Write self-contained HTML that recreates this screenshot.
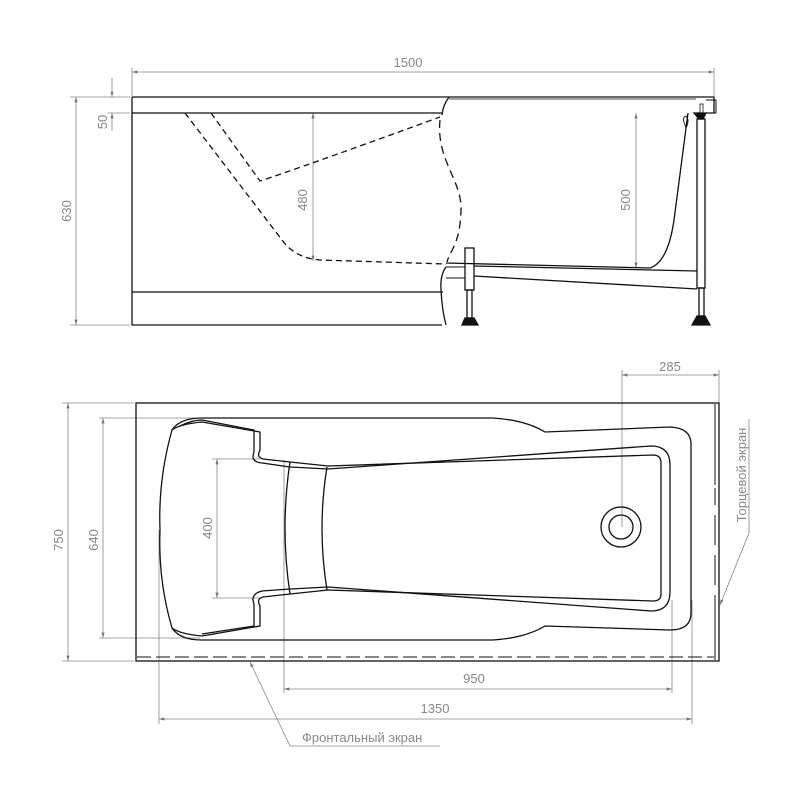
<!DOCTYPE html>
<html><head><meta charset="utf-8"><style>html,body{margin:0;padding:0;background:#fff}svg{display:block}</style></head>
<body>
<svg width="800" height="800" viewBox="0 0 800 800" xmlns="http://www.w3.org/2000/svg">
<defs>
<marker id="a" viewBox="0 0 10 6" refX="10" refY="3" markerWidth="7" markerHeight="4" orient="auto-start-reverse"><path d="M0,0 L10,3 L0,6 z" fill="#777"/></marker>
</defs>
<g font-family="'Liberation Sans Narrow','Liberation Sans',sans-serif" font-size="13" fill="#888">
<g stroke="#888" stroke-width="0.8" fill="none">
 <line x1="132" y1="68" x2="132" y2="96"/><line x1="714" y1="68" x2="714" y2="96"/>
 <line x1="132" y1="72" x2="714" y2="72" marker-start="url(#a)" marker-end="url(#a)"/>
 <line x1="70" y1="97" x2="130" y2="97"/><line x1="70" y1="325" x2="130" y2="325"/>
 <line x1="76" y1="97" x2="76" y2="325" marker-start="url(#a)" marker-end="url(#a)"/>
 <line x1="108" y1="113" x2="130" y2="113"/>
 <line x1="112" y1="78" x2="112" y2="97" marker-end="url(#a)"/>
 <line x1="112" y1="131" x2="112" y2="113" marker-end="url(#a)"/>
 <line x1="313" y1="113" x2="313" y2="261" marker-start="url(#a)" marker-end="url(#a)"/>
 <line x1="636" y1="113" x2="636" y2="268" marker-start="url(#a)" marker-end="url(#a)"/>
</g>
<text x="408" y="67" text-anchor="middle">1500</text>
<text transform="translate(71,211) rotate(-90)" text-anchor="middle">630</text>
<text transform="translate(107,122) rotate(-90)" text-anchor="middle">50</text>
<text transform="translate(307,200) rotate(-90)" text-anchor="middle">480</text>
<text transform="translate(630,200) rotate(-90)" text-anchor="middle">500</text>

<g stroke="#111" stroke-width="1.3" fill="none">
 <path d="M132,97 L714,97 L714,113 L706,113"/>
 <path d="M132,97 L132,113 L442,113"/>
 <line x1="449" y1="99" x2="696" y2="99" stroke-width="0.8"/>
 <path d="M132,113 L132,325 L442,325"/>
 <line x1="132" y1="292" x2="443" y2="292"/>
 <path d="M449,97 Q443,105 442,115"/>
 <path d="M440,120 C436,160 462,180 461,210 C460,245 450,250 447,262" stroke-dasharray="8,5"/>
 <path d="M446,267 Q440,275 441,290 Q442,310 446,325"/>
 <path d="M211,113 L260,181 Q300,168 440,117" stroke-dasharray="6,4"/>
 <path d="M185,113 L282,240 Q295,258 320,260 L446,264" stroke-dasharray="6,4"/>
 <path d="M688,113 L674,220 Q668,262 650,268 L446,263"/>
 <path d="M684,122 Q682,118 686,116 Q690,120 686,128 Z" stroke-width="0.9"/>
 <line x1="474" y1="266" x2="697" y2="271"/>
 <line x1="474" y1="276" x2="697" y2="289"/>
 <line x1="446" y1="267" x2="465" y2="267" stroke-width="1"/>
 <line x1="446" y1="278" x2="465" y2="278" stroke-width="1"/>
 <rect x="465" y="248" width="9" height="42"/>
 <rect x="467" y="290" width="5" height="28"/>
 <path d="M465,318 L474,318 L478,325 L462,325 Z" fill="#111"/>
 <rect x="697" y="119" width="8" height="169"/>
 <rect x="699" y="288" width="5" height="28"/>
 <path d="M697,316 L705,316 L710,325 L692,325 Z" fill="#111"/>
 <path d="M694,113 L706,113 L703,119 L699,119 Z" fill="#111"/>
 <rect x="700" y="104" width="3" height="10" stroke-width="0.8"/>
 <path d="M706,100 L716,100 L716,113 L708,113" stroke-width="1"/>
</g>

<g stroke="#888" stroke-width="0.8" fill="none">
 <line x1="622" y1="370" x2="622" y2="527"/>
 <line x1="719" y1="370" x2="719" y2="402"/>
 <line x1="622" y1="375" x2="719" y2="375" marker-start="url(#a)" marker-end="url(#a)"/>
 <line x1="62" y1="403" x2="134" y2="403"/><line x1="62" y1="661" x2="134" y2="661"/>
 <line x1="68" y1="403" x2="68" y2="661" marker-start="url(#a)" marker-end="url(#a)"/>
 <line x1="99" y1="418" x2="200" y2="418"/><line x1="99" y1="638" x2="200" y2="638"/>
 <line x1="103" y1="418" x2="103" y2="638" marker-start="url(#a)" marker-end="url(#a)"/>
 <line x1="212" y1="459" x2="260" y2="459"/><line x1="212" y1="598" x2="260" y2="598"/>
 <line x1="217" y1="459" x2="217" y2="598" marker-start="url(#a)" marker-end="url(#a)"/>
 <line x1="284" y1="460" x2="284" y2="693"/><line x1="672" y1="600" x2="672" y2="693"/>
 <line x1="284" y1="689" x2="672" y2="689" marker-start="url(#a)" marker-end="url(#a)"/>
 <line x1="159" y1="530" x2="159" y2="724"/><line x1="692" y1="600" x2="692" y2="724"/>
 <line x1="159" y1="719" x2="692" y2="719" marker-start="url(#a)" marker-end="url(#a)"/>
 <path d="M440,746 L290,746 L250,662" marker-end="url(#a)"/>
 <path d="M749,419 L749,533 L720,605" marker-end="url(#a)"/>
</g>
<text x="670" y="371" text-anchor="middle">285</text>
<text transform="translate(63,540) rotate(-90)" text-anchor="middle">750</text>
<text transform="translate(98,540) rotate(-90)" text-anchor="middle">640</text>
<text transform="translate(212,528) rotate(-90)" text-anchor="middle">400</text>
<text x="474" y="683" text-anchor="middle">950</text>
<text x="435" y="713" text-anchor="middle">1350</text>
<text x="302" y="742">Фронтальный экран</text>
<text transform="translate(746,475) rotate(-90)" text-anchor="middle">Торцевой экран</text>

<g stroke="#111" stroke-width="1.3" fill="none">
 <rect x="136" y="403" width="583" height="258"/>
 <line x1="715" y1="404" x2="715" y2="485" stroke-width="1"/>
 <line x1="715" y1="610" x2="715" y2="660" stroke-width="1"/>
 <path d="M715,488 L715,505 M715,515 L715,545 M715,555 L715,585 M715,595 L715,612" stroke-width="1"/>
 <line x1="137" y1="657" x2="714" y2="657" stroke-width="1.1" stroke-dasharray="14,5"/>
 <path d="M202,418 L493,418 Q525,420 545,432 L670,427 Q691,428 691,444 L691,613 Q691,630 670,630 L545,626 Q525,638 493,640 L202,640 Q180,640 172,628 Q158,580 160,530 Q158,480 172,430 Q180,418 202,418 Z"/>
 <path d="M172,430 Q180,424 202,422 L260,432 L260,450 Q256,457 263,459 L290,462 L328,466 L653,455 Q661,455 661,463 L661,594 Q661,601 653,601 L328,590 L290,594 L263,597 Q256,599 260,606 L260,626 L202,636 Q180,634 172,628"/>
 <path d="M180,426 Q192,420 202,420 L254,430 L254,452 Q250,462 262,463 L290,467 L328,469 L651,446 Q670,446 670,465 L670,592 Q670,611 651,611 L328,587 L290,589 L262,591 Q250,594 254,604 L254,626 L202,634"/>
 <path d="M290,462 Q280,528 290,594"/>
 <path d="M327,467 Q317,528 327,590"/>
 <ellipse cx="621" cy="527" rx="20" ry="20"/>
 <ellipse cx="621" cy="527" rx="12" ry="12"/>
</g>
</g>
</svg>
</body></html>
